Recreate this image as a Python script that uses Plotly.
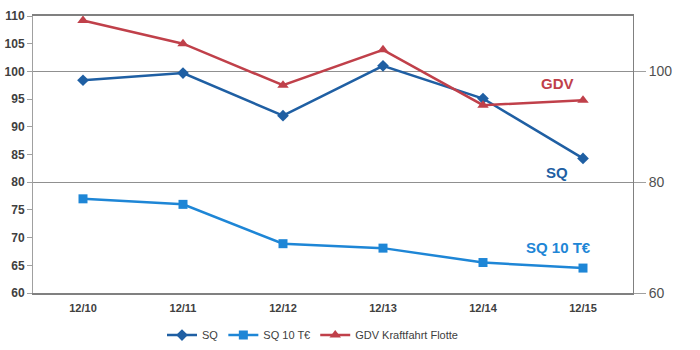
import plotly.graph_objects as go

categories = ["12/10", "12/11", "12/12", "12/13", "12/14", "12/15"]
sq = [98.4, 99.7, 92.0, 101.0, 95.1, 84.3]
sq10 = [77.0, 76.0, 68.9, 68.1, 65.5, 64.5]
gdv = [109.2, 105.0, 97.5, 103.9, 93.9, 94.8]

C_SQ = "#1f5fa3"
C_SQ10 = "#1e86d6"
C_GDV = "#c0404a"

fig = go.Figure()
fig.add_trace(go.Scatter(x=categories, y=sq, name="SQ", mode="lines+markers",
                         line=dict(color=C_SQ, width=2.5),
                         marker=dict(symbol="diamond", size=9, color=C_SQ)))
fig.add_trace(go.Scatter(x=categories, y=sq10, name="SQ 10 T€", mode="lines+markers",
                         line=dict(color=C_SQ10, width=2.5),
                         marker=dict(symbol="square", size=9, color=C_SQ10)))
fig.add_trace(go.Scatter(x=categories, y=gdv, name="GDV Kraftfahrt Flotte", mode="lines+markers",
                         line=dict(color=C_GDV, width=2.5),
                         marker=dict(symbol="triangle-up", size=10, color=C_GDV)))
# invisible trace to activate the right axis
fig.add_trace(go.Scatter(x=categories, y=sq, yaxis="y2", mode="lines",
                         line=dict(width=0), showlegend=False, hoverinfo="skip", opacity=0))

fig.update_layout(
    width=700, height=350,
    margin=dict(l=33, r=67, t=16, b=57, autoexpand=False),
    paper_bgcolor="white", plot_bgcolor="white",
    font=dict(family="Liberation Sans, Arial, sans-serif", color="#404040"),
    showlegend=True,
    legend=dict(orientation="h", x=0.215, xanchor="left", y=-0.152, yanchor="middle",
                font=dict(size=11, color="#404040"), itemwidth=30, tracegroupgap=0,
                bgcolor="rgba(0,0,0,0)"),
    xaxis=dict(type="category", range=[-0.5, 5.5], showgrid=False, automargin=False,
               showline=True, linecolor="#808080", linewidth=1.5, mirror=True,
               ticks="outside", ticklen=4, tickcolor="rgba(0,0,0,0)",
               tickfont=dict(size=11, color="#404040", family="Liberation Sans, Arial, sans-serif"),
               tickprefix="<b>", ticksuffix="</b>"),
    yaxis=dict(range=[60, 110], dtick=5, showgrid=False, zeroline=False, automargin=False,
               showline=True, linecolor="#a0a0a0", linewidth=1,
               ticks="outside", ticklen=5, tickcolor="#a0a0a0",
               tickfont=dict(size=12, color="#404040"),
               tickprefix="<b>", ticksuffix="</b>"),
    yaxis2=dict(range=[60, 110], tickvals=[60, 80, 100], overlaying="y", side="right",
                showgrid=True, gridcolor="#909090", gridwidth=1, zeroline=False, automargin=False,
                showline=True, linecolor="#808080", linewidth=1,
                ticks="outside", ticklen=12, tickcolor="#a0a0a0",
                tickfont=dict(size=14, color="#505050")),
)

fig.add_annotation(x="12/15", y=97.9, text="<b>GDV</b>", showarrow=False, xshift=-26,
                   font=dict(size=15, color=C_GDV))
fig.add_annotation(x="12/15", y=81.8, text="<b>SQ</b>", showarrow=False, xshift=-26,
                   font=dict(size=15, color=C_SQ))
fig.add_annotation(x="12/15", y=68.3, text="<b>SQ 10 T€</b>", showarrow=False, xshift=-25,
                   font=dict(size=15, color=C_SQ10))

fig.write_html("out.html")
